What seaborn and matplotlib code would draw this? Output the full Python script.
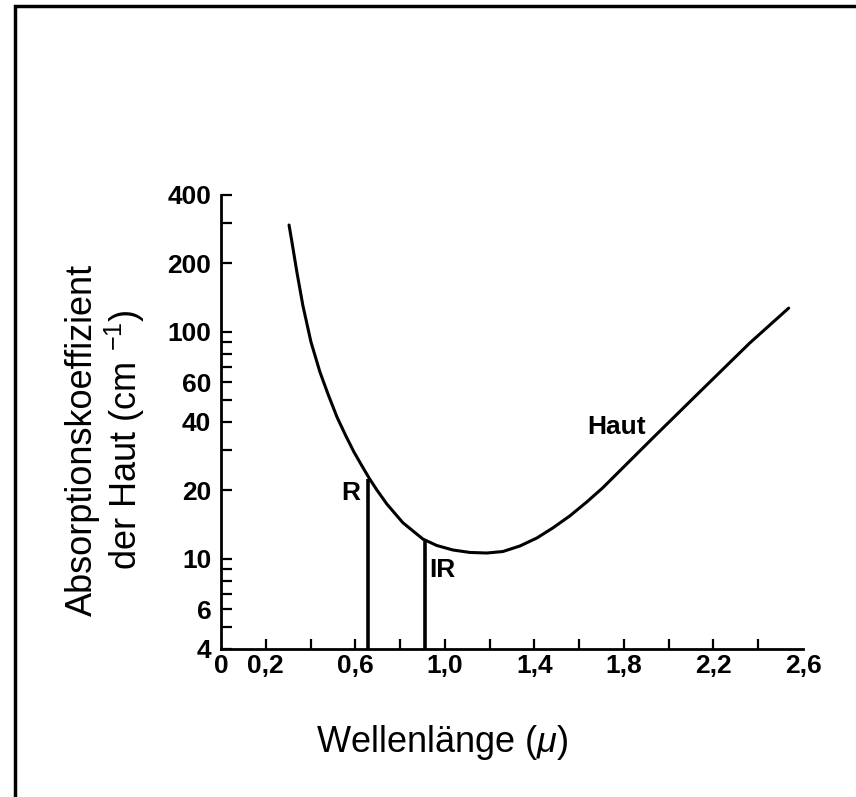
import matplotlib
matplotlib.use("Agg")
import matplotlib.pyplot as plt
import matplotlib.patches as mpatches
from matplotlib.ticker import FixedLocator, NullFormatter, FixedFormatter
import seaborn as sns
import pandas as pd

# Curve data (wavelength in micron, absorption coefficient cm^-1)
wavelength = [0.304, 0.317, 0.339, 0.366, 0.402, 0.442, 0.478, 0.518, 0.558, 0.594,
              0.630, 0.661, 0.696, 0.741, 0.8125, 0.902, 0.964, 1.036, 1.112, 1.1875,
              1.259, 1.335, 1.411, 1.482, 1.558, 1.634, 1.705, 1.929, 2.138, 2.362,
              2.536]
absorption = [295, 248, 183, 130, 90.0, 66.4, 53.1, 42.1, 34.7, 29.5,
              25.6, 22.7, 20.1, 17.4, 14.4, 12.2, 11.43, 10.92, 10.65, 10.59,
              10.75, 11.37, 12.33, 13.65, 15.42, 17.77, 20.5, 34.0, 54.2, 89.1,
              127]

marker_x = [0.656, 0.91]
marker_top = [22.5, 12.0]

ytick_labels_vals = [4, 6, 10, 20, 40, 60, 100, 200, 400]
ytick_minor_vals = [5, 7, 8, 9, 30, 50, 70, 80, 90, 300]
xtick_vals = [0.2, 0.4, 0.6, 0.8, 1.0, 1.2, 1.4, 1.6, 1.8, 2.0, 2.2, 2.4]
xlabel_vals = [0.0, 0.2, 0.6, 1.0, 1.4, 1.8, 2.2, 2.6]
xlabel_texts = ["0", "0,2", "0,6", "1,0", "1,4", "1,8", "2,2", "2,6"]

df = pd.DataFrame({"Wellenlänge": wavelength, "Absorption": absorption})

sns.set_style("white")
plt.rcParams['font.family'] = ['Liberation Sans', 'DejaVu Sans']
plt.rcParams['mathtext.fontset'] = 'custom'
plt.rcParams['mathtext.rm'] = 'Liberation Sans'
plt.rcParams['mathtext.it'] = 'Liberation Sans:italic'
plt.rcParams['text.color'] = 'black'
plt.rcParams['axes.labelcolor'] = 'black'
plt.rcParams['xtick.color'] = 'black'
plt.rcParams['ytick.color'] = 'black'

fig = plt.figure(figsize=(8.56, 7.97), dpi=100)
ax = fig.add_axes([221/856, 1 - 649/797, (803 - 221)/856, (649 - 195)/797])

sns.lineplot(data=df, x="Wellenlänge", y="Absorption", ax=ax, color="black",
             linewidth=2.2, sort=False, estimator=None)
ax.set_yscale("log")
ax.set_xlim(0, 2.6)
ax.set_ylim(4, 400)

ax.vlines(marker_x, 4, marker_top, colors="black", linewidth=2.6)

# spines
for s in ["top", "right"]:
    ax.spines[s].set_visible(False)
for s in ["left", "bottom"]:
    ax.spines[s].set_color("black")
    ax.spines[s].set_linewidth(2.0)

# y ticks
all_y = sorted(ytick_labels_vals + ytick_minor_vals)
ax.yaxis.set_major_locator(FixedLocator(all_y))
ax.yaxis.set_minor_locator(FixedLocator([]))
ax.yaxis.set_major_formatter(FixedFormatter([str(v) if v in ytick_labels_vals else "" for v in all_y]))
ax.tick_params(axis="y", which="major", left=True, direction="in", length=8, width=1.6,
               labelsize=19, pad=7, colors="black")
for lbl in ax.get_yticklabels():
    lbl.set_fontweight("bold")

# x ticks
ax.xaxis.set_major_locator(FixedLocator(xtick_vals))
ax.xaxis.set_major_formatter(NullFormatter())
ax.tick_params(axis="x", which="major", bottom=True, direction="in", length=7, width=1.6)
for v, t in zip(xlabel_vals, xlabel_texts):
    ax.text(v, -0.012, t, transform=ax.get_xaxis_transform(), ha="center", va="top",
            fontsize=19, fontweight="bold", color="black")

ax.set_xlabel("")
ax.set_ylabel("")

# annotations
ax.text(0.58, 19.5, "R", fontsize=19, fontweight="bold", ha="center", va="center", color="black")
ax.text(0.991, 8.9, "IR", fontsize=19, fontweight="bold", ha="center", va="center", color="black")
ax.text(1.768, 38.0, "Haut", fontsize=19, fontweight="bold", ha="center", va="center", color="black")

# axis titles
fig.text(442/856, 1 - 743/797, "Wellenlänge ($\\mathit{\\mu}$)", fontsize=26,
         ha="center", va="center", color="black")
fig.text(106/856, 1 - 440/797, "Absorptionskoeffizient\nder Haut (cm $^{-1}$)",
         fontsize=26, ha="center", va="center", rotation=90, linespacing=1.1, color="black")

# frame border around the figure
rect = mpatches.Rectangle((15/856, -0.1), 2, 1 - 6/797 + 0.1, transform=fig.transFigure,
                          fill=False, edgecolor="black", linewidth=2.5, clip_on=False)
fig.patches.append(rect)

fig.savefig("out.png", dpi=100)
